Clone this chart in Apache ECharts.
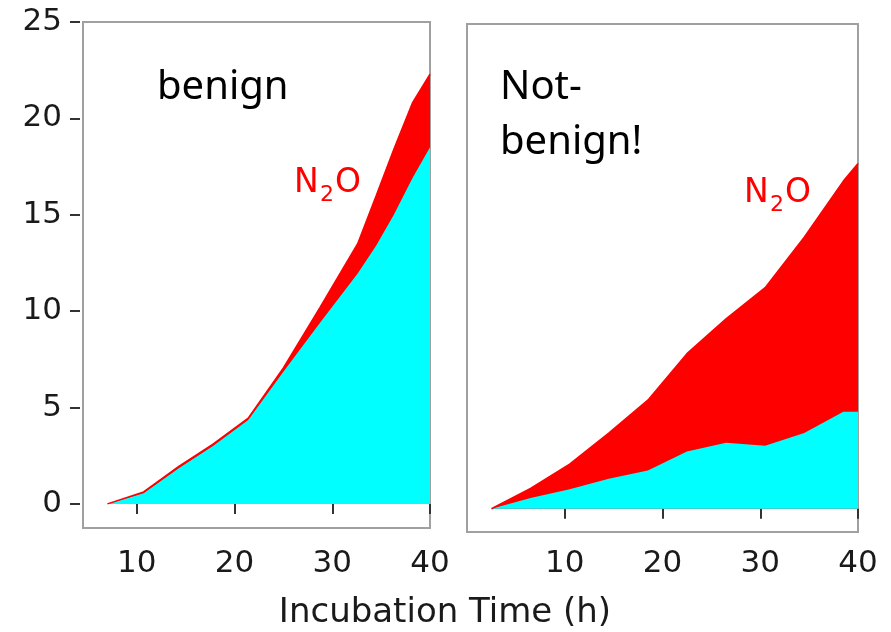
<!DOCTYPE html>
<html>
<head>
<meta charset="utf-8">
<title></title>
<style type="text/css">
  html, body { margin: 0; padding: 0; background: #fff; }
  #main { width: 891px; height: 632px; }
</style>
</head>
<body>
<div id="main"></div>
<script src="https://cdn.jsdelivr.net/npm/echarts@6/dist/echarts.min.js"></script>
<script type="text/javascript">
// left panel: benign
var leftTime  = [7, 10.7, 14.3, 17.8, 21.4, 25, 28.75, 32.6, 34.5, 36.3, 38.2, 40];
var leftN2    = [0, 0.55, 1.85, 3.0, 4.35, 6.85, 9.4, 11.95, 13.4, 15.0, 16.9, 18.5];
var leftTotal = [0, 0.62, 1.95, 3.1, 4.45, 7.05, 10.2, 13.5, 16.0, 18.4, 20.8, 22.3];
// right panel: not benign
var rightTime  = [2.5, 6.5, 10.5, 14.5, 18.5, 22.5, 26.5, 30.5, 34.5, 38.5, 40];
var rightN2    = [0, 0.55, 1.0, 1.55, 1.97, 2.95, 3.4, 3.25, 3.9, 5.0, 5.0];
var rightTotal = [0, 1.05, 2.3, 3.9, 5.6, 8.0, 9.8, 11.4, 14.0, 16.9, 17.8];
// ticks
var xTicks = [10, 20, 30, 40];
var yTicks = [0, 5, 10, 15, 20, 25];

function pairs(xs, ys) {
  var out = [];
  for (var i = 0; i < xs.length; i++) out.push([xs[i], ys[i]]);
  return out;
}

var labelFont = 'DejaVu Sans';
var dark = '#1a1a1a';

function area(name, idx, data, color) {
  return {
    name: name, type: 'line', xAxisIndex: idx, yAxisIndex: idx,
    data: data, symbol: 'none', silent: true,
    lineStyle: { color: color, width: color === '#ff0000' ? 1.5 : 0 },
    areaStyle: { color: color, opacity: 1 }
  };
}

function xAxisFor(idx, min, margin) {
  return {
    type: 'value', gridIndex: idx, min: min, max: 40, offset: 3,
    axisLine: { show: false },
    splitLine: { show: false },
    axisTick: { show: true, length: 10, customValues: xTicks, lineStyle: { color: '#333', width: 2 } },
    axisLabel: { customValues: xTicks, margin: margin, color: dark, fontSize: 31, fontFamily: labelFont }
  };
}

// chemical formula with a subscript digit
function sub(x, y, main, small, tail, color) {
  var kids = [
    { type: 'text', x: 0, y: 0, style: { text: main, fill: color, font: '33px "DejaVu Sans"', verticalAlign: 'bottom' } },
    { type: 'text', x: 26, y: 6, style: { text: small, fill: color, font: '22px "DejaVu Sans"', verticalAlign: 'bottom' } }
  ];
  if (tail) kids.push({ type: 'text', x: 41, y: 0, style: { text: tail, fill: color, font: '33px "DejaVu Sans"', verticalAlign: 'bottom' } });
  return { type: 'group', x: x, y: y, children: kids };
}

var chart = echarts.init(document.getElementById('main'));
var option = {
  animation: false,
  backgroundColor: '#fff',
  grid: [
    { left: 83, top: 22, width: 347, height: 506, show: true, borderColor: '#a0a0a0', borderWidth: 2 },
    { left: 467, top: 24, width: 391, height: 508, show: true, borderColor: '#a0a0a0', borderWidth: 2 }
  ],
  xAxis: [xAxisFor(0, 4.5, 17), xAxisFor(1, 0, 13)],
  yAxis: [
    {
      type: 'value', gridIndex: 0, min: -1.25, max: 25, offset: 3,
      axisLine: { show: false }, splitLine: { show: false },
      axisTick: { show: true, length: 10, customValues: yTicks, lineStyle: { color: '#333', width: 2 } },
      axisLabel: { customValues: yTicks, margin: 18, color: dark, fontSize: 31, fontFamily: labelFont }
    },
    {
      type: 'value', gridIndex: 1, min: -1.2, max: 25,
      axisLine: { show: false }, splitLine: { show: false },
      axisTick: { show: false }, axisLabel: { show: false }
    }
  ],
  series: [
    area('N2O', 0, pairs(leftTime, leftTotal), '#ff0000'),
    area('N2', 0, pairs(leftTime, leftN2), '#00ffff'),
    area('N2O', 1, pairs(rightTime, rightTotal), '#ff0000'),
    area('N2', 1, pairs(rightTime, rightN2), '#00ffff')
  ],
  graphic: [
    { type: 'text', x: 157, y: 108, style: { text: 'benign', fill: '#000', font: '40px "Noto Sans"', verticalAlign: 'bottom' } },
    { type: 'text', x: 500, y: 108, style: { text: 'Not-', fill: '#000', font: '40px "Noto Sans"', verticalAlign: 'bottom' } },
    { type: 'text', x: 500, y: 163, style: { text: 'benign!', fill: '#000', font: '40px "Noto Sans"', verticalAlign: 'bottom' } },
    sub(294, 200, 'N', '2', 'O', '#ff0000'),
    sub(744, 210, 'N', '2', 'O', '#ff0000'),
    sub(361, 497, 'N', '2', null, '#000'),
    sub(749, 499, 'N', '2', null, '#000'),
    { type: 'text', x: 445, y: 630, style: { text: 'Incubation Time (h)', fill: dark, font: '34px "DejaVu Sans"', align: 'center', verticalAlign: 'bottom' } }
  ]
};
chart.setOption(option);
</script>
</body>
</html>
